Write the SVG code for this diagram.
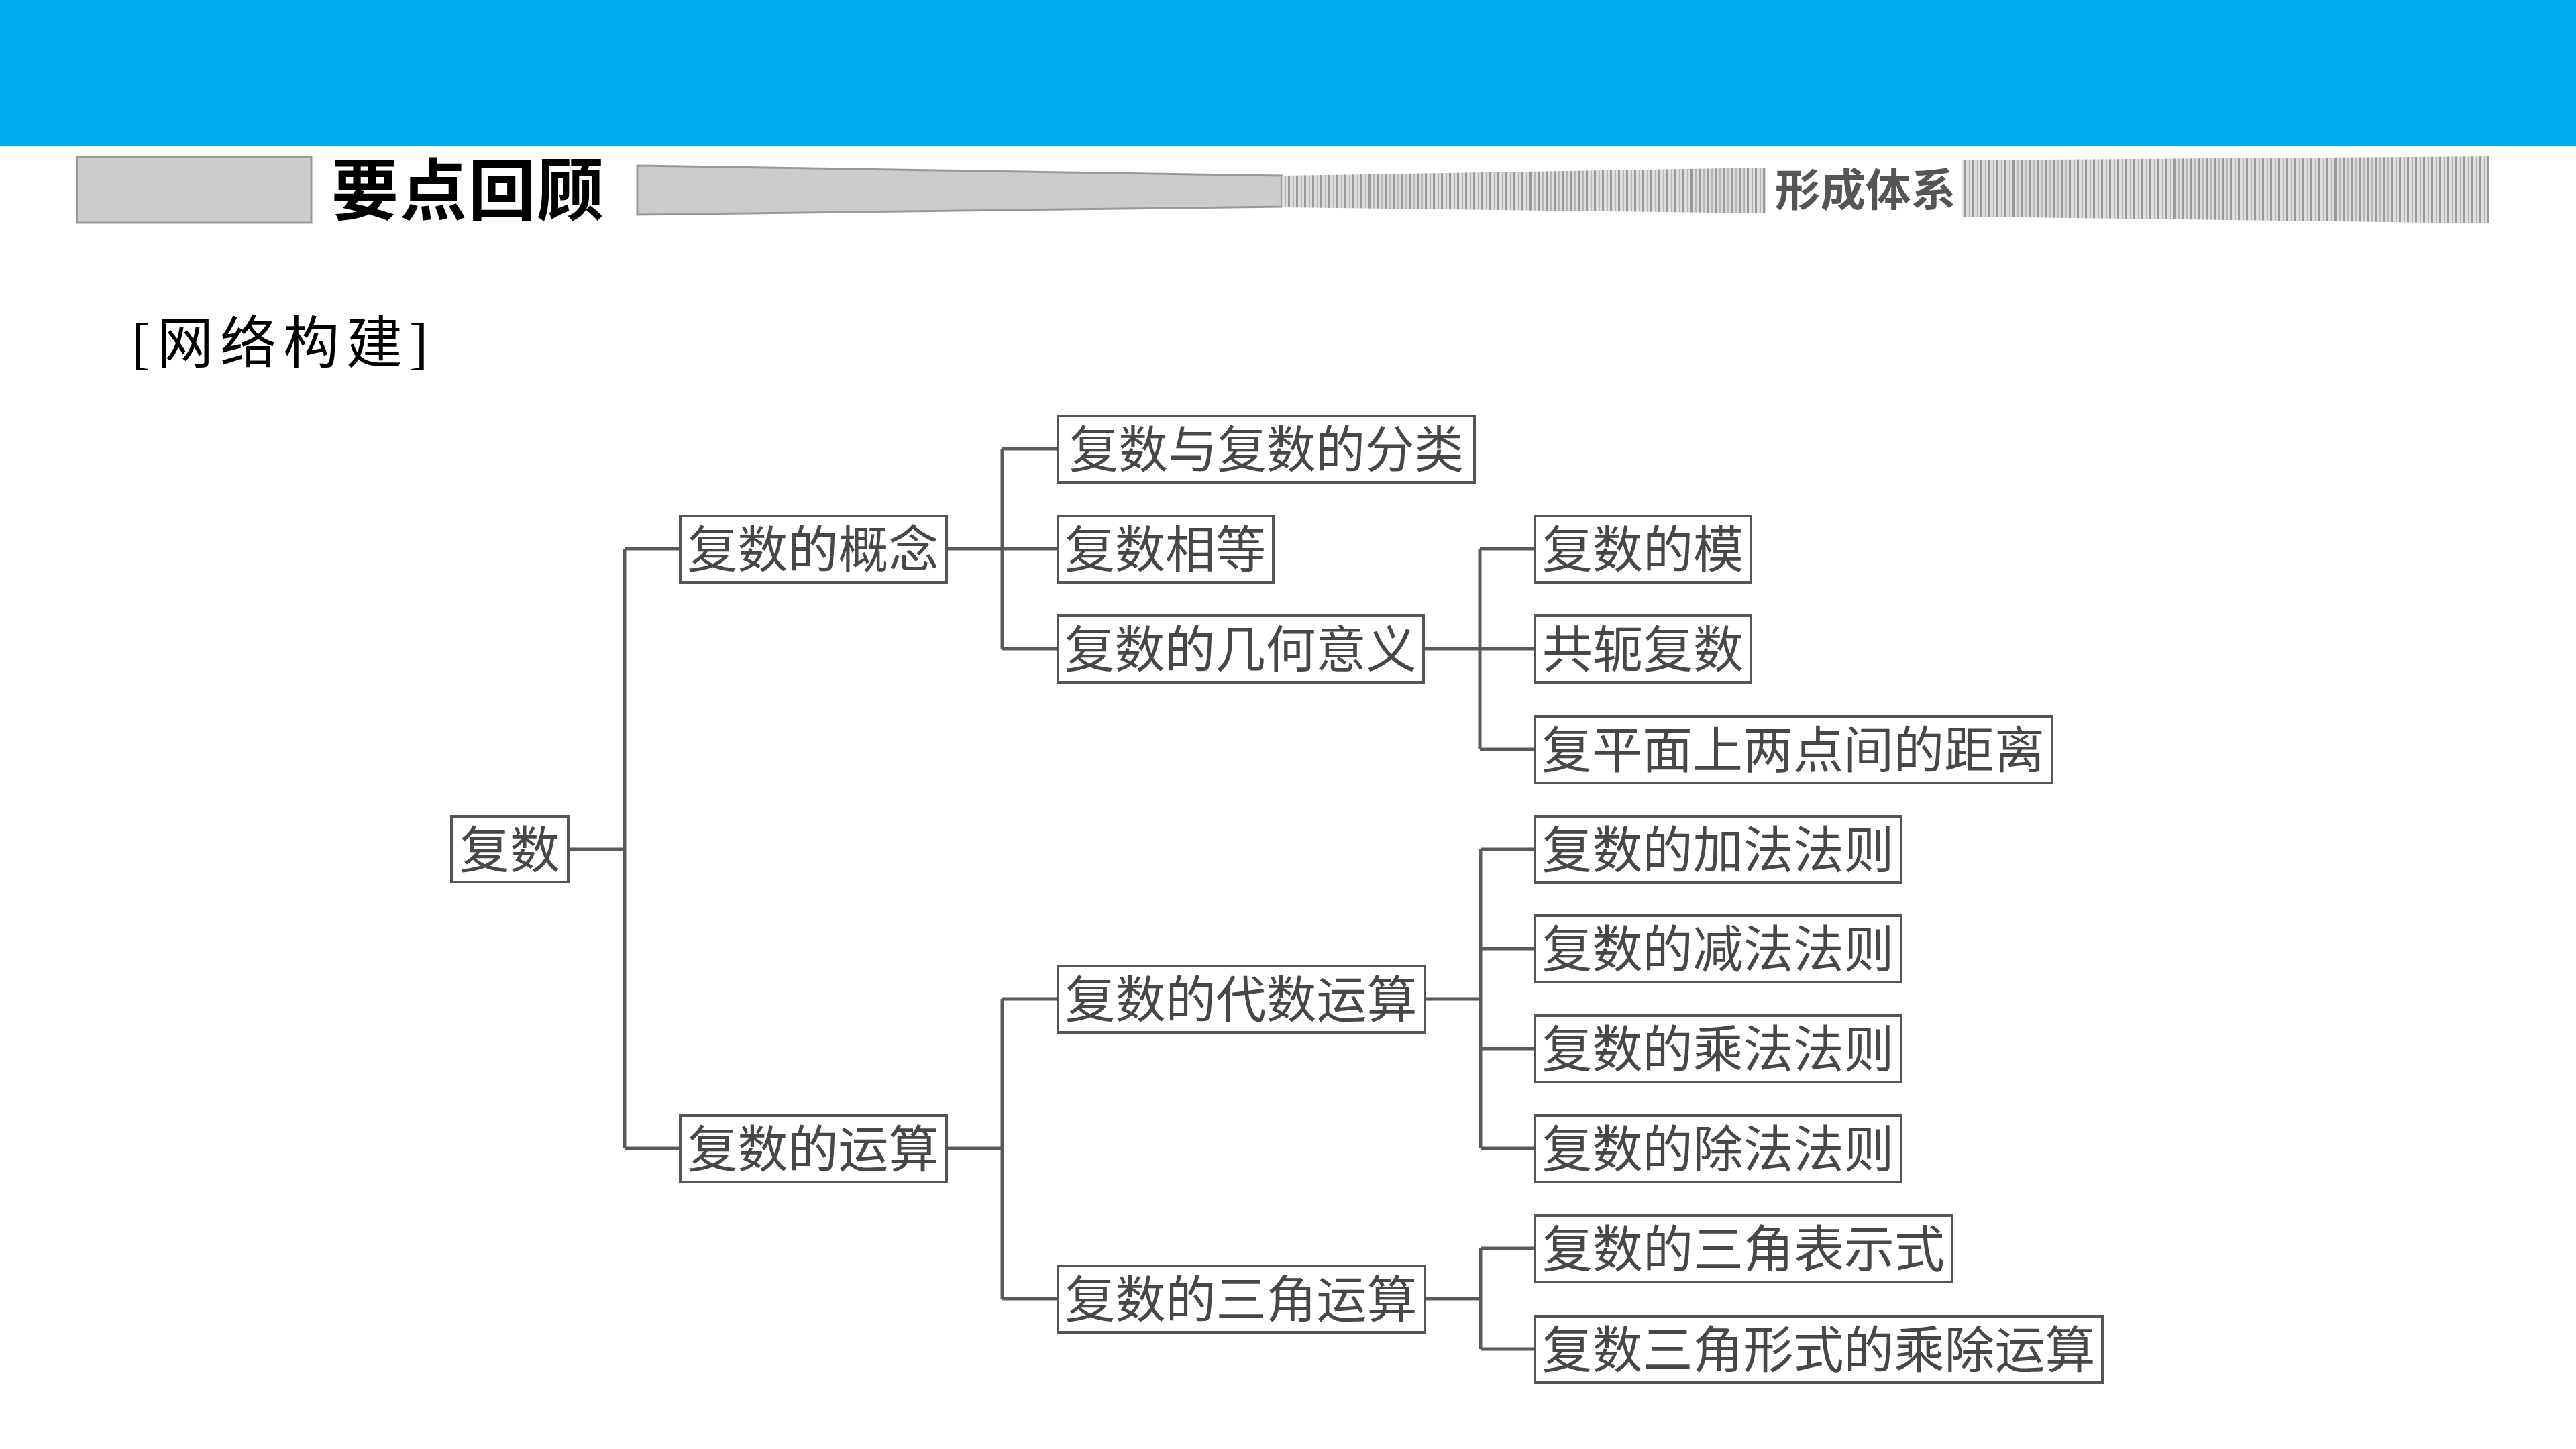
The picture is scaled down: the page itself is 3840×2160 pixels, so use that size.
<svg xmlns="http://www.w3.org/2000/svg" width="3840" height="2160" viewBox="0 0 3840 2160">
<defs>
<pattern id="stripes" patternUnits="userSpaceOnUse" width="12" height="20">
<rect width="12" height="20" fill="#dddddd"/>
<rect x="0" width="3" height="20" fill="#999999"/>
<rect x="7" width="2" height="20" fill="#b5b5b5"/>
</pattern>
<style>
.box{fill:#ffffff;stroke:#555555;stroke-width:4}
.lbl{font-family:"Noto Sans CJK SC",sans-serif;font-size:75px;fill:#474747;text-anchor:middle}
.conn{fill:none;stroke:#5a5a5a;stroke-width:5}
</style>
</defs>
<rect x="0" y="0" width="3840" height="218" fill="#00aeef"/>
<g id="header">
<rect x="115" y="234" width="349" height="98" fill="#cccccc" stroke="#999999" stroke-width="3"/>
<text x="494" y="320" font-family="'Noto Sans CJK SC',sans-serif" font-weight="bold" font-size="100" fill="#000000" letter-spacing="2">要点回顾</text>
<polygon points="950,247 1911,262 1911,308 950,320" fill="#cccccc" stroke="#999999" stroke-width="3"/>
<polygon points="1911,262 2633,250 2633,318 1911,309" fill="url(#stripes)"/>
<text x="2646" y="307" font-family="'Noto Sans CJK SC',sans-serif" font-weight="bold" font-size="66" fill="#555555" textLength="270" lengthAdjust="spacingAndGlyphs">形成体系</text>
<polygon points="2925,239 3710,233 3710,333 2925,323" fill="url(#stripes)"/>
</g>
<text x="196" y="541" font-family="'Liberation Serif','Noto Sans CJK SC',serif" font-size="84" fill="#000000" letter-spacing="10">[网络构建]</text>
<g id="connectors">
<path class="conn" d="M847,1266H931M931,818V1712M931,818H1014M931,1712H1014"/>
<path class="conn" d="M1411,818H1494M1494,669V967M1494,669H1577M1494,818H1577M1494,967H1577"/>
<path class="conn" d="M2122,967H2206M2206,818V1117M2206,818H2288M2206,967H2288M2206,1117H2288"/>
<path class="conn" d="M1411,1712H1494M1494,1489V1936M1494,1489H1577M1494,1936H1577"/>
<path class="conn" d="M2124,1489H2207M2207,1266V1712M2207,1266H2288M2207,1414H2288M2207,1563H2288M2207,1712H2288"/>
<path class="conn" d="M2124,1936H2207M2207,1861V2011M2207,1861H2288M2207,2011H2288"/>
</g>
<g id="n-root"><rect class="box" x="673" y="1217" width="174" height="98"/><text class="lbl" x="760" y="1294">复数</text></g>
<g id="n-concept"><rect class="box" x="1014" y="769" width="397" height="99"/><text class="lbl" x="1212" y="846">复数的概念</text></g>
<g id="n-operation"><rect class="box" x="1014" y="1663" width="397" height="99"/><text class="lbl" x="1212" y="1740">复数的运算</text></g>
<g id="n-classify"><rect class="box" x="1577" y="620" width="621" height="99"/><text class="lbl" x="1888" y="697" textLength="588" lengthAdjust="spacingAndGlyphs">复数与复数的分类</text></g>
<g id="n-equal"><rect class="box" x="1577" y="769" width="321" height="99"/><text class="lbl" x="1737" y="846">复数相等</text></g>
<g id="n-geom"><rect class="box" x="1577" y="918" width="545" height="99"/><text class="lbl" x="1849" y="995">复数的几何意义</text></g>
<g id="n-modulus"><rect class="box" x="2288" y="769" width="322" height="99"/><text class="lbl" x="2449" y="846">复数的模</text></g>
<g id="n-conj"><rect class="box" x="2288" y="918" width="322" height="99"/><text class="lbl" x="2449" y="995">共轭复数</text></g>
<g id="n-dist"><rect class="box" x="2288" y="1068" width="771" height="99"/><text class="lbl" x="2673" y="1145">复平面上两点间的距离</text></g>
<g id="n-alg"><rect class="box" x="1577" y="1440" width="547" height="99"/><text class="lbl" x="1850" y="1517">复数的代数运算</text></g>
<g id="n-trig"><rect class="box" x="1577" y="1887" width="547" height="99"/><text class="lbl" x="1850" y="1964">复数的三角运算</text></g>
<g id="n-add"><rect class="box" x="2288" y="1217" width="546" height="99"/><text class="lbl" x="2561" y="1294">复数的加法法则</text></g>
<g id="n-sub"><rect class="box" x="2288" y="1365" width="546" height="99"/><text class="lbl" x="2561" y="1442">复数的减法法则</text></g>
<g id="n-mul"><rect class="box" x="2288" y="1514" width="546" height="99"/><text class="lbl" x="2561" y="1591">复数的乘法法则</text></g>
<g id="n-div"><rect class="box" x="2288" y="1663" width="546" height="99"/><text class="lbl" x="2561" y="1740">复数的除法法则</text></g>
<g id="n-trigform"><rect class="box" x="2288" y="1812" width="622" height="99"/><text class="lbl" x="2599" y="1889">复数的三角表示式</text></g>
<g id="n-trigmuldiv"><rect class="box" x="2288" y="1962" width="846" height="99"/><text class="lbl" x="2711" y="2039">复数三角形式的乘除运算</text></g>
</svg>
